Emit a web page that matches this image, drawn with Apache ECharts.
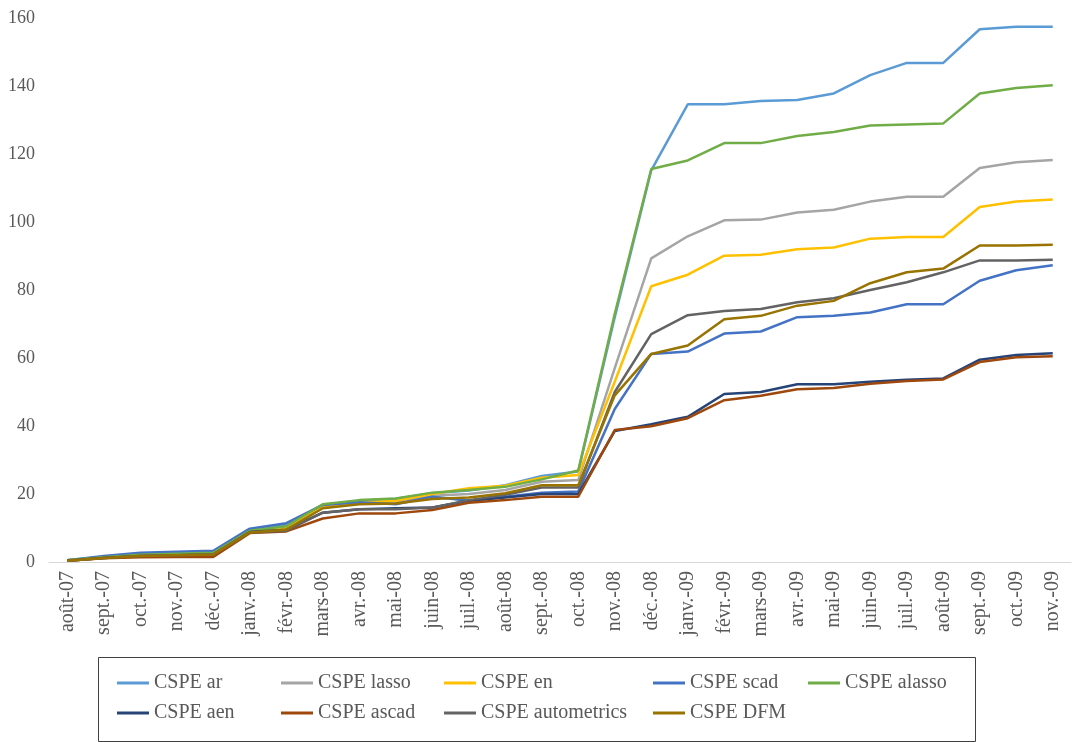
<!DOCTYPE html>
<html>
<head>
<meta charset="utf-8">
<script src="https://cdn.jsdelivr.net/npm/echarts@6/dist/echarts.min.js"></script>
<style>
html,body{margin:0;padding:0;background:#fff;}
#chart{width:1074px;height:742px;}
</style>
</head>
<body>
<div id="chart"></div>
<script>
const categories = ['août-07','sept.-07','oct.-07','nov.-07','déc.-07','janv.-08','févr.-08','mars-08','avr.-08','mai-08','juin-08','juil.-08','août-08','sept.-08','oct.-08','nov.-08','déc.-08','janv.-09','févr.-09','mars-09','avr.-09','mai-09','juin-09','juil.-09','août-09','sept.-09','oct.-09','nov.-09'];

const cspeAr = [0.5,1.5,2.4,2.7,3.0,9.3,10.8,16.8,18.0,18.6,20.2,21.0,22.6,25.3,26.6,72,115.2,134.6,134.6,135.6,135.9,137.8,143.2,146.8,146.8,156.7,157.4,157.4];
const cspeLasso = [0.5,1.3,2.0,2.3,2.6,9.0,10.0,16.0,17.3,17.5,19.5,20.0,21.2,23.6,24.1,57,89.3,95.8,100.5,100.7,102.8,103.6,106.0,107.4,107.4,115.9,117.6,118.2];
const cspeEn = [0.5,1.3,2.0,2.3,2.6,9.0,10.0,16.3,17.5,18.0,20.0,21.7,22.4,24.8,25.6,53,81.1,84.5,90.1,90.4,92.0,92.5,95.1,95.6,95.6,104.4,106.0,106.6];
const cspeScad = [0.5,1.8,2.7,3.0,3.3,9.8,11.4,16.8,17.6,17.0,19.2,18.0,19.2,20.4,20.7,45,61.2,61.9,67.2,67.8,72.0,72.4,73.4,75.8,75.8,82.7,85.8,87.3];
const cspeAlasso = [0.5,1.4,2.1,2.4,2.7,9.2,10.5,17.0,18.2,18.7,20.4,21.2,22.1,24.3,26.9,73,115.6,118.1,123.2,123.2,125.3,126.5,128.4,128.7,129.0,137.8,139.4,140.2];
const cspeAen = [0.4,1.2,1.8,2.0,2.2,8.8,9.5,14.5,15.5,15.8,16.0,18.0,19.0,20.0,20.0,38.5,40.5,42.7,49.4,50.0,52.3,52.3,53.0,53.6,54.0,59.5,60.9,61.4];
const cspeAscad = [0.4,1.1,1.4,1.5,1.5,8.5,9.0,12.8,14.3,14.3,15.3,17.4,18.2,19.2,19.2,38.8,39.9,42.3,47.6,48.9,50.8,51.2,52.4,53.2,53.7,58.8,60.2,60.5];
const cspeAutometrics = [0.4,1.2,1.8,2.0,2.2,8.7,9.2,14.5,15.5,15.5,16.0,18.2,19.8,21.9,21.9,50,67.0,72.6,73.8,74.4,76.4,77.6,80.0,82.3,85.2,88.7,88.7,88.9];
const cspeDfm = [0.4,1.2,1.8,2.0,2.2,8.7,9.5,15.8,17.0,17.2,18.5,19.0,20.2,22.6,22.6,49,61.2,63.7,71.4,72.4,75.4,76.8,82.0,85.2,86.3,93.1,93.1,93.3];

const yTicks = [0,20,40,60,80,100,120,140,160];

const seriesDefs = [
  {name:'CSPE ar', data:cspeAr, color:'#5B9BD5'},
  {name:'CSPE lasso', data:cspeLasso, color:'#A5A5A5'},
  {name:'CSPE en', data:cspeEn, color:'#FFC000'},
  {name:'CSPE scad', data:cspeScad, color:'#4472C4'},
  {name:'CSPE alasso', data:cspeAlasso, color:'#70AD47'},
  {name:'CSPE aen', data:cspeAen, color:'#264478'},
  {name:'CSPE ascad', data:cspeAscad, color:'#9E480E'},
  {name:'CSPE autometrics', data:cspeAutometrics, color:'#636363'},
  {name:'CSPE DFM', data:cspeDfm, color:'#997300'}
];

const legendPos = [
  [117,673],[281,673],[444,673],[653,673],[808,673],
  [117,703],[281,703],[444,703],[653,703]
];

const font = '"Liberation Serif", "Times New Roman", serif';

const chart = echarts.init(document.getElementById('chart'), null, {renderer:'canvas'});
chart.setOption({
  backgroundColor:'#ffffff',
  animation:false,
  grid:{left:49, right:3, top:18, bottom:180, containLabel:false},
  xAxis:{
    type:'category',
    data:categories,
    boundaryGap:true,
    axisLine:{show:true, lineStyle:{color:'#d9d9d9', width:1}},
    axisTick:{show:false},
    axisLabel:{rotate:90, interval:0, color:'#595959', fontFamily:font, fontSize:20, margin:9}
  },
  yAxis:{
    type:'value',
    min:yTicks[0], max:yTicks[yTicks.length-1], interval:20,
    splitLine:{show:false},
    axisLine:{show:false},
    axisTick:{show:false},
    axisLabel:{color:'#595959', fontFamily:font, fontSize:18, margin:14}
  },
  graphic:[{
    type:'rect',
    shape:{x:98.5, y:657.5, width:877, height:84},
    style:{fill:'none', stroke:'#404040', lineWidth:1},
    silent:true
  }],
  legend: seriesDefs.map((s,i)=>({
    data:[s.name],
    left:legendPos[i][0],
    top:legendPos[i][1],
    icon:'rect',
    itemWidth:32,
    itemHeight:3,
    padding:0,
    textStyle:{fontFamily:font, fontSize:20, color:'#595959'}
  })),
  series: seriesDefs.map(s=>({
    name:s.name,
    type:'line',
    data:s.data,
    symbol:'none',
    smooth:false,
    lineStyle:{width:2.5, color:s.color},
    itemStyle:{color:s.color},
    emphasis:{disabled:true}
  }))
});
</script>
</body>
</html>
